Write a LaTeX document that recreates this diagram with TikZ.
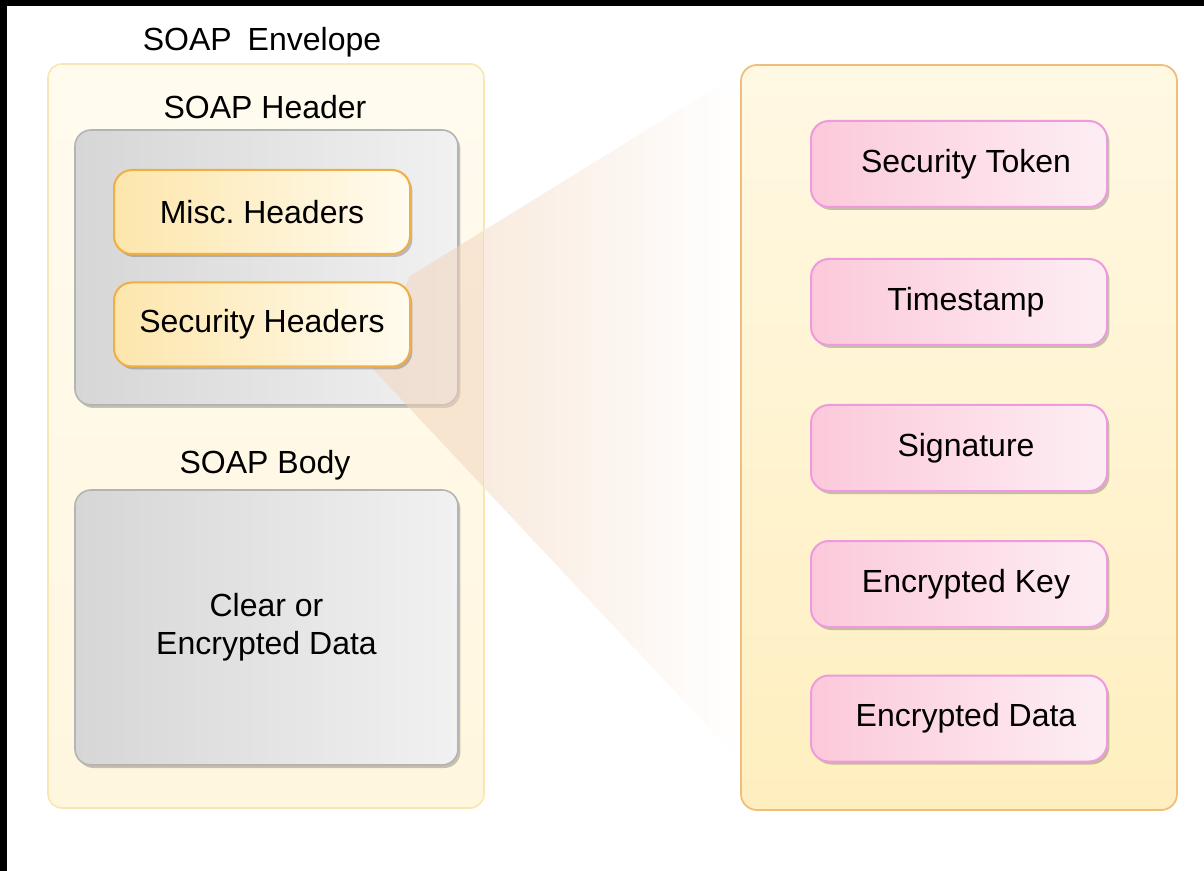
\documentclass[tikz,border=0pt]{standalone}
\usepackage{fontspec}
\setmainfont{Liberation Sans}
\usetikzlibrary{shadows}

\definecolor{envfillA}{HTML}{FFFBEF}
\definecolor{envfillB}{HTML}{FFF6DE}
\definecolor{envline}{HTML}{F8E7B2}
\definecolor{panelA}{HTML}{FFF8E3}
\definecolor{panelB}{HTML}{FFEFBF}
\definecolor{panelline}{HTML}{F0BE7A}
\definecolor{grayL}{HTML}{D6D6D6}
\definecolor{grayR}{HTML}{F1F1F2}
\definecolor{grayline}{HTML}{B4B4B4}
\definecolor{hdrL}{HTML}{FDE6AC}
\definecolor{hdrR}{HTML}{FFFBEE}
\definecolor{hdrline}{HTML}{F0AE45}
\definecolor{pinkL}{HTML}{FCC9DA}
\definecolor{pinkR}{HTML}{FDEEF4}
\definecolor{pinkline}{HTML}{EE9ADF}
\definecolor{wedge}{HTML}{F2D3BA}
\definecolor{wedgesoft}{HTML}{F9EBDF}

\tikzset{
  softshadow/.style={drop shadow={shadow xshift=1.2pt, shadow yshift=-1.5pt, fill=black, opacity=0.22}},
  envbox/.style={draw=envline, line width=0.8pt, rounded corners=7pt,
    top color=envfillA, bottom color=envfillB},
  panelbox/.style={draw=panelline, line width=0.9pt, rounded corners=8pt,
    top color=panelA, bottom color=panelB},
  grayframe/.style={draw=grayline, line width=0.8pt, rounded corners=8pt,
    left color=grayL, right color=grayR, softshadow},
  hdrbox/.style={draw=hdrline, line width=1pt, rounded corners=9pt,
    left color=hdrL, right color=hdrR, softshadow,
    minimum width=148pt, minimum height=42pt},
  pinkbox/.style={draw=pinkline, line width=1pt, rounded corners=9pt,
    left color=pinkL, right color=pinkR, softshadow,
    minimum width=148pt, minimum height=43pt},
  caption/.style={inner sep=0pt, text=black}
}

\begin{document}
\begin{tikzpicture}[x=0.5pt, y=-0.5pt, font=\fontsize{16}{19}\selectfont]
\useasboundingbox (0,0) rectangle (1204,871);
\fill[white] (0,0) rectangle (1204,871);
% frame strips
\fill[black] (0,0) rectangle (1204,6);
\fill[black] (0,0) rectangle (7,871);

% envelope
\node[envbox, minimum width=218pt, minimum height=372pt] (env) at (266,436) {};

% header and body containers
\node[grayframe, minimum width=191.5pt, minimum height=137.5pt] (hdr) at (266.5,267.5) {};
\node[grayframe, minimum width=191.5pt, minimum height=137.5pt, align=center] (body) at (266.5,627.5)
  {Clear or\\Encrypted Data};

% expansion wedge from the security headers to the detail panel
\coordinate (wa) at (410,276);
\coordinate (wm1) at (484,230.4);
\coordinate (wb) at (741,72);
\coordinate (wc) at (741,762);
\coordinate (wm2) at (484,487.7);
\coordinate (wd) at (370,366);
% part lying over the envelope: translucent tint
\fill[wedge, fill opacity=0.5] (wa) -- (wm1) -- (wm2) -- (wd) -- cycle;
% part between envelope and panel: fades out to white
\shade[left color=wedgesoft, right color=white] (wm1) -- (wb) -- (wc) -- (wm2) -- cycle;

% detail panel
\node[panelbox, minimum width=218pt, minimum height=372.5pt] (panel) at (959,437.5) {};

% header entries
\node[hdrbox] (misc) at (262,212) {Misc.\ Headers};
\node[hdrbox] (sec) at (262,324.5) {Security Headers};

% security elements
\node[pinkbox] (tok) at (959,164) {\hspace*{7pt}Security Token};
\node[pinkbox] (ts)  at (959,302) {\hspace*{7pt}Timestamp};
\node[pinkbox] (sig) at (959,448) {\hspace*{7pt}Signature};
\node[pinkbox] (ek)  at (959,584) {\hspace*{7pt}Encrypted Key};
\node[pinkbox] (ed)  at (959,718.5) {\hspace*{7pt}Encrypted Data};

% titles
\node[caption] (envt) at (262,42) {SOAP\hspace{0.5em}Envelope};
\node[caption] (hdrt) at (265,107) {SOAP Header};
\node[caption] (bodyt) at (265,465) {SOAP Body};
\end{tikzpicture}
\end{document}
